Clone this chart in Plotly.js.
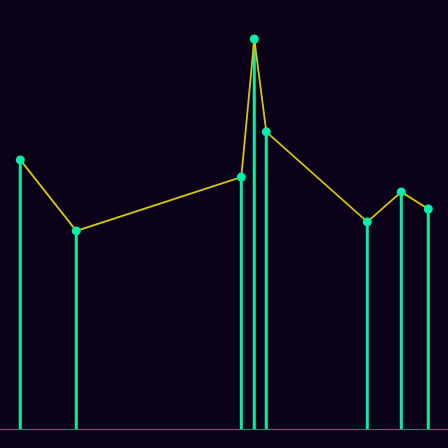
<!DOCTYPE html>
<html>
<head>
<meta charset="utf-8">
<script src="https://cdn.plot.ly/plotly-3.0.1.min.js"></script>
<style>html,body{margin:0;padding:0;background:#0a0017;}#chart{width:448px;height:448px;}</style>
</head>
<body>
<div id="chart"></div>
<script>
// Data (x in arbitrary units, y values)
const xValues = [0, 56, 221, 234, 246, 347, 381, 408];
const yValues = [69.0, 50.8, 64.6, 100.0, 76.2, 53.1, 60.8, 56.4];

const stemColor = '#00f0a8';
const lineColor = '#d8c800';
const bg = '#0a0017';

const stems = {
  type: 'bar',
  x: xValues,
  y: yValues,
  width: 3,
  marker: {color: stemColor, line: {width: 0}},
  hoverinfo: 'skip'
};
const line = {
  type: 'scatter',
  mode: 'lines+markers',
  x: xValues,
  y: yValues,
  line: {color: lineColor, width: 1.8},
  marker: {color: stemColor, size: 9}
};

Plotly.newPlot('chart', [stems, line], {
  width: 448, height: 448,
  paper_bgcolor: bg, plot_bgcolor: bg,
  margin: {l: 0, r: 0, t: 0, b: 19},
  showlegend: false,
  xaxis: {range: [-20.3, 427.7], showgrid: false, zeroline: false, showticklabels: false, ticks: '',
          showline: true, linecolor: '#1f8a7a', linewidth: 1},
  yaxis: {range: [0, 110], showgrid: false, zeroline: false, showticklabels: false, ticks: '',
          showline: false}
}, {displayModeBar: false, staticPlot: true});
</script>
</body>
</html>
